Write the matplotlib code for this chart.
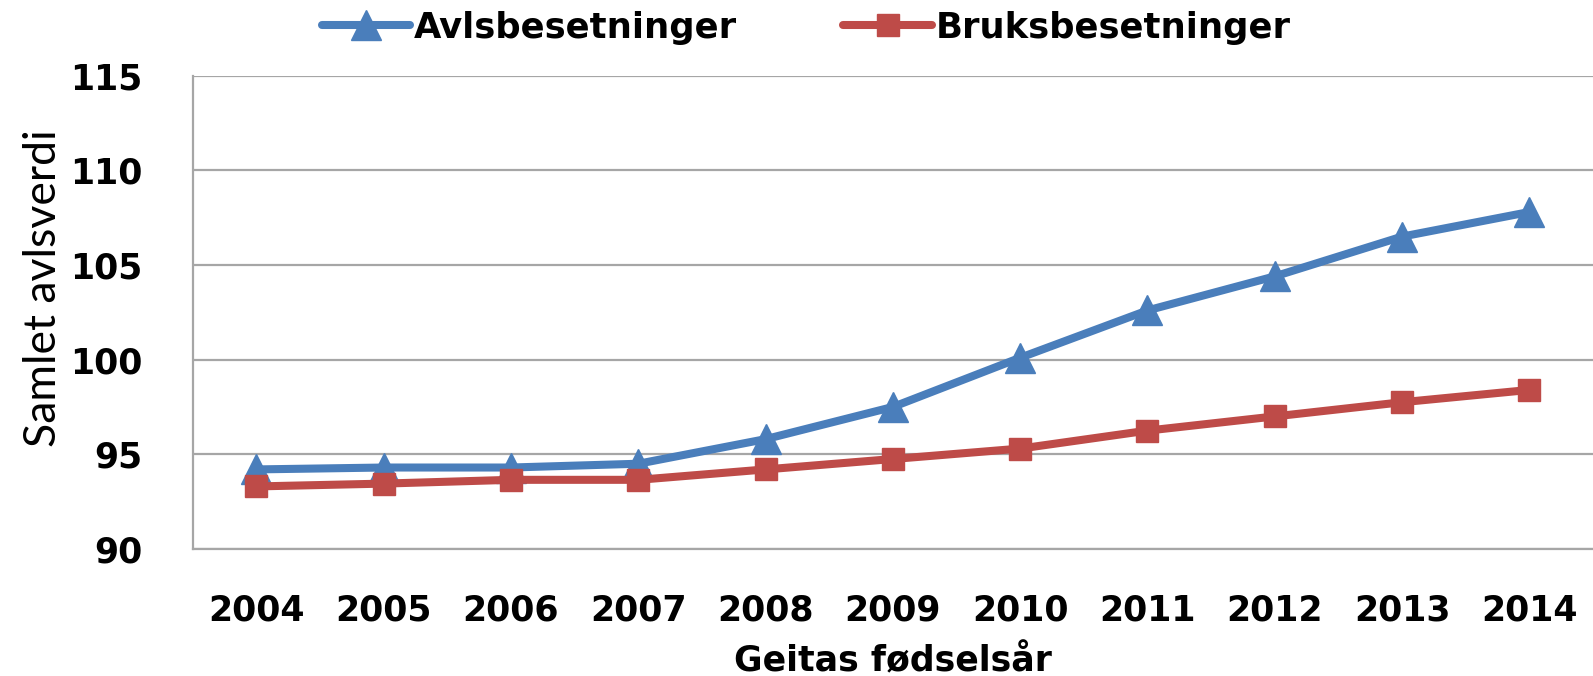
import matplotlib
matplotlib.use("Agg")
import matplotlib.pyplot as plt
from matplotlib import font_manager

years = ["2004", "2005", "2006", "2007", "2008", "2009", "2010", "2011", "2012", "2013", "2014"]
avls = [94.2, 94.3, 94.3, 94.5, 95.8, 97.5, 100.1, 102.6, 104.4, 106.5, 107.8]
bruks = [93.3, 93.45, 93.65, 93.65, 94.2, 94.75, 95.3, 96.25, 97.0, 97.75, 98.4]
yticks = [90, 95, 100, 105, 110, 115]

names = {f.name for f in font_manager.fontManager.ttflist}
narrow = "Liberation Sans Narrow" if "Liberation Sans Narrow" in names else ("Lato" if "Lato" in names else "DejaVu Sans")
ysize = 34 if narrow == "Liberation Sans Narrow" else 32

fig = plt.figure(figsize=(15.93, 6.76), dpi=100)
ax = fig.add_axes([0.121, 0.188, 0.879, 0.700])

x = list(range(len(years)))
ax.plot(x, avls, color="#4A7EBB", lw=5.8, marker="^", ms=22, label="Avlsbesetninger",
        solid_capstyle="round", zorder=3)
ax.plot(x, bruks, color="#BE4B48", lw=5.8, marker="s", ms=16, label="Bruksbesetninger",
        solid_capstyle="round", zorder=3)

ax.set_xlim(-0.5, len(years) - 0.5)
ax.set_ylim(90, 115)
ax.set_yticks(yticks)
ax.set_yticklabels([str(t) for t in yticks])
ax.set_xticks(x)
ax.set_xticklabels(years)
ax.grid(axis="y", color="#A6A6A6", lw=1.6, zorder=0)
ax.set_axisbelow(True)

for s in ["top", "right"]:
    ax.spines[s].set_visible(False)
for s in ["left", "bottom"]:
    ax.spines[s].set_color("#A6A6A6")
    ax.spines[s].set_linewidth(1.6)

ax.tick_params(axis="x", length=0, pad=32, labelsize=25)
ax.tick_params(axis="y", length=0, pad=36, labelsize=25)
for lab in ax.get_xticklabels() + ax.get_yticklabels():
    lab.set_fontweight("bold")

ax.set_xlabel("Geitas fødselsår", fontsize=25, fontweight="bold", labelpad=12)
ax.set_ylabel("Samlet avlsverdi", fontsize=ysize, family=[narrow, "DejaVu Sans"])
ax.yaxis.set_label_coords(-0.092, 0.55)

leg = fig.legend(loc="center", bbox_to_anchor=(0.506, 0.959), ncol=2, frameon=False,
                 prop={"weight": "bold", "size": 25.5}, handlelength=2.5, handletextpad=0.1,
                 columnspacing=3.0, numpoints=1)

fig.savefig("out.png", dpi=100)
